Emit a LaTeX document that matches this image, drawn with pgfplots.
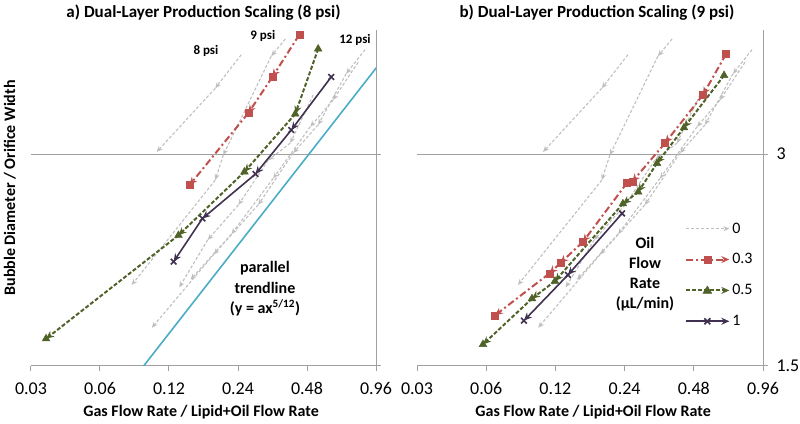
\documentclass[border=0pt]{standalone}
\usepackage{fontspec}
\setmainfont{Carlito}
\usepackage{pgfplots}
\pgfplotsset{compat=1.18}
\usetikzlibrary{arrows.meta}

\definecolor{cred}{RGB}{192,80,77}
\definecolor{cgreen}{RGB}{79,98,40}
\definecolor{cpurple}{RGB}{64,49,81}
\definecolor{cgray}{RGB}{191,191,191}
\definecolor{ccyan}{RGB}{75,172,198}
\definecolor{caxis}{RGB}{160,160,160}

\tikzset{
  gser/.style={cgray, line width=1.1pt, dash pattern=on 3pt off 2pt, -{Stealth[length=6pt,width=5pt]}},
  rser/.style={cred, line width=2pt, dash pattern=on 7pt off 3pt on 2pt off 3pt, -{Stealth[length=8pt,width=7pt]}},
  vser/.style={cgreen, line width=2pt, dash pattern=on 4pt off 2pt, -{Stealth[length=8pt,width=7pt]}},
  pser/.style={cpurple, line width=1.6pt, -{Stealth[length=8pt,width=7pt]}},
}
\pgfplotsset{
  legG/.style={legend image code/.code={\draw[gser] (0pt,0pt) -- (43pt,0pt);}},
  legR/.style={legend image code/.code={\draw[rser] (0pt,0pt) -- (43pt,0pt); \fill[cred] (17.5pt,-3.5pt) rectangle (24.5pt,3.5pt);}},
  legV/.style={legend image code/.code={\draw[vser] (0pt,0pt) -- (43pt,0pt); \fill[cgreen] (16.5pt,-3pt) -- (25.5pt,-3pt) -- (21pt,4.5pt) -- cycle;}},
  legP/.style={legend image code/.code={\draw[pser] (0pt,0pt) -- (43pt,0pt); \draw[cpurple, line width=1.6pt] (18pt,-3pt) -- (24pt,3pt) (18pt,3pt) -- (24pt,-3pt);}},
}

\newcommand{\sg}[3]{\addplot[#1,forget plot] coordinates {#2 #3};}

\newcommand{\graylines}{%
  \sg{gser}{(0.248,4.15)}{(0.191,3.72)}
  \sg{gser}{(0.191,3.72)}{(0.106,3.02)}
  \sg{gser}{(0.386,4.37)}{(0.335,4.13)}
  \sg{gser}{(0.335,4.13)}{(0.207,2.99)}
  \sg{gser}{(0.207,2.99)}{(0.191,2.755)}
  \sg{gser}{(0.191,2.755)}{(0.0825,1.955)}
  \sg{gser}{(0.511,3.64)}{(0.406,3.11)}
  \sg{gser}{(0.406,3.11)}{(0.325,2.94)}
  \sg{gser}{(0.325,2.94)}{(0.241,2.54)}
  \sg{gser}{(0.241,2.54)}{(0.177,2.265)}
  \sg{gser}{(0.177,2.265)}{(0.133,1.94)}
  \sg{gser}{(0.802,4.05)}{(0.624,3.58)}
  \sg{gser}{(0.624,3.58)}{(0.496,3.28)}
  \sg{gser}{(0.496,3.28)}{(0.342,2.77)}
  \sg{gser}{(0.342,2.77)}{(0.225,2.31)}
  \sg{gser}{(0.225,2.31)}{(0.149,1.99)}
  \sg{gser}{(0.860,4.22)}{(0.711,3.90)}
  \sg{gser}{(0.711,3.90)}{(0.537,3.30)}
  \sg{gser}{(0.537,3.30)}{(0.418,3.01)}
  \sg{gser}{(0.418,3.01)}{(0.294,2.54)}
  \sg{gser}{(0.294,2.54)}{(0.188,2.16)}
  \sg{gser}{(0.188,2.16)}{(0.101,1.70)}
}

\begin{document}
\begin{tikzpicture}
\useasboundingbox (0,0) rectangle (800pt,423pt);

% ---------- panel a ----------
\begin{axis}[
  scale only axis, width=345pt, height=336pt,
  at={(31pt,57pt)}, anchor=south west,
  xmode=log, ymode=log,
  xmin=0.03, xmax=0.96, ymin=1.5, ymax=4.5,
  axis x line*=bottom, axis y line*=right,
  axis line style={caxis, line width=1pt},
  xtick={0.03,0.06,0.12,0.24,0.48,0.96},
  xticklabels={0.03,0.06,0.12,0.24,0.48,0.96},
  ytick={1.5,3},
  yticklabels={},
  tick align=outside, major tick length=5pt,
  tick style={caxis, line width=1pt},
  ymajorgrids, major grid style={caxis, line width=1pt},
  tick label style={font=\fontsize{18}{21}\selectfont},
  xticklabel style={anchor=base, yshift=-24pt},
  title={a) Dual-Layer Production Scaling (8 psi)},
  title style={font=\bfseries\fontsize{17}{20}\selectfont, at={(0.50,1)}, anchor=base, yshift=6.5pt},
  xlabel={Gas Flow Rate / Lipid+Oil Flow Rate},
  xlabel style={font=\bfseries\fontsize{16}{19}\selectfont, at={(axis description cs:0.493,0)}, anchor=base, yshift=-51pt},
  ylabel={Bubble Diameter / Orifice Width},
  ylabel style={font=\bfseries\fontsize{16}{19}\selectfont, at={(axis description cs:-0.046,0.53)}, anchor=base},
]
\graylines
\addplot[ccyan, line width=1.6pt, forget plot] coordinates {(0.093,1.5) (0.970,3.99)};
\sg{rser}{(0.444,4.43)}{(0.339,3.86)}
\sg{rser}{(0.339,3.86)}{(0.266,3.43)}
\sg{rser}{(0.266,3.43)}{(0.1475,2.71)}
\addplot[only marks, mark=square*, mark size=3.5pt, cred, forget plot] coordinates {(0.444,4.43) (0.339,3.86) (0.266,3.43) (0.1475,2.71)};
\sg{vser}{(0.537,4.23)}{(0.4265,3.42)}
\sg{vser}{(0.4265,3.42)}{(0.256,2.83)}
\sg{vser}{(0.256,2.83)}{(0.132,2.30)}
\sg{vser}{(0.132,2.30)}{(0.0349,1.64)}
\addplot[only marks, mark=triangle*, mark size=4.5pt, cgreen, forget plot] coordinates {(0.537,4.23) (0.4265,3.42) (0.256,2.83) (0.132,2.30) (0.0349,1.64)};
\sg{pser}{(0.612,3.86)}{(0.410,3.245)}
\sg{pser}{(0.410,3.245)}{(0.286,2.81)}
\sg{pser}{(0.286,2.81)}{(0.168,2.43)}
\sg{pser}{(0.168,2.43)}{(0.1257,2.11)}
\addplot[only marks, mark=x, mark size=4pt, cpurple, line width=1.6pt, forget plot] coordinates {(0.612,3.86) (0.410,3.245) (0.286,2.81) (0.168,2.43) (0.1257,2.11)};

\node[font=\bfseries\fontsize{13}{15}\selectfont] at (rel axis cs:0.507,0.9375) {8 psi};
\node[font=\bfseries\fontsize{13}{15}\selectfont] at (rel axis cs:0.672,0.982) {9 psi};
\node[font=\bfseries\fontsize{13}{15}\selectfont] at (rel axis cs:0.939,0.970) {12 psi};
\node[align=center, font=\bfseries\fontsize{16}{20.5}\selectfont] at (rel axis cs:0.678,0.229)
  {parallel\\trendline\\(y = ax\textsuperscript{5/12})};
\end{axis}

% ---------- panel b ----------
\begin{axis}[
  scale only axis, width=346pt, height=336pt,
  at={(417pt,57pt)}, anchor=south west,
  xmode=log, ymode=log,
  xmin=0.03, xmax=0.96, ymin=1.5, ymax=4.5,
  axis x line*=bottom, axis y line*=right,
  axis line style={caxis, line width=1pt},
  xtick={0.03,0.06,0.12,0.24,0.48,0.96},
  xticklabels={0.03,0.06,0.12,0.24,0.48,0.96},
  ytick={1.5,3},
  yticklabels={1.5,3},
  yticklabel style={anchor=west, xshift=5pt},
  tick align=outside, major tick length=5pt,
  tick style={caxis, line width=1pt},
  ymajorgrids, major grid style={caxis, line width=1pt},
  tick label style={font=\fontsize{18}{21}\selectfont},
  xticklabel style={anchor=base, yshift=-24pt},
  title={b) Dual-Layer Production Scaling (9 psi)},
  title style={font=\bfseries\fontsize{17}{20}\selectfont, at={(0.52,1)}, anchor=base, yshift=6.5pt},
  xlabel={Gas Flow Rate / Lipid+Oil Flow Rate},
  xlabel style={font=\bfseries\fontsize{16}{19}\selectfont, at={(axis description cs:0.509,0)}, anchor=base, yshift=-51pt},
  legend style={draw=none, fill=none, at={(rel axis cs:0.775,0.271)}, anchor=west,
    font=\fontsize{16}{19}\selectfont, row sep=15pt, inner sep=0pt},
  legend cell align=left,
]
\graylines
\sg{rser}{(0.663,4.16)}{(0.526,3.64)}
\sg{rser}{(0.526,3.64)}{(0.360,3.11)}
\sg{rser}{(0.360,3.11)}{(0.259,2.74)}
\sg{rser}{(0.259,2.74)}{(0.246,2.73)}
\sg{rser}{(0.246,2.73)}{(0.158,2.25)}
\sg{rser}{(0.158,2.25)}{(0.126,2.10)}
\sg{rser}{(0.126,2.10)}{(0.113,2.03)}
\sg{rser}{(0.113,2.03)}{(0.0655,1.77)}
\addplot[only marks, mark=square*, mark size=3.5pt, cred, forget plot] coordinates {(0.663,4.16) (0.526,3.64) (0.360,3.11) (0.259,2.74) (0.246,2.73) (0.158,2.25) (0.126,2.10) (0.113,2.03) (0.0655,1.77)};
\sg{vser}{(0.650,3.88)}{(0.435,3.27)}
\sg{vser}{(0.435,3.27)}{(0.332,2.91)}
\sg{vser}{(0.332,2.91)}{(0.275,2.65)}
\sg{vser}{(0.275,2.65)}{(0.236,2.55)}
\sg{vser}{(0.236,2.55)}{(0.1195,1.98)}
\sg{vser}{(0.1195,1.98)}{(0.0949,1.87)}
\sg{vser}{(0.0949,1.87)}{(0.0581,1.61)}
\addplot[only marks, mark=triangle*, mark size=4.5pt, cgreen, forget plot] coordinates {(0.650,3.88) (0.435,3.27) (0.332,2.91) (0.275,2.65) (0.236,2.55) (0.1195,1.98) (0.0949,1.87) (0.0581,1.61)};
\sg{pser}{(0.234,2.47)}{(0.136,2.02)}
\sg{pser}{(0.136,2.02)}{(0.0876,1.74)}
\addplot[only marks, mark=x, mark size=4pt, cpurple, line width=1.6pt, forget plot] coordinates {(0.234,2.47) (0.136,2.02) (0.0876,1.74)};

\addlegendimage{legG}
\addlegendentry{0}
\addlegendimage{legR}
\addlegendentry{0.3}
\addlegendimage{legV}
\addlegendentry{0.5}
\addlegendimage{legP}
\addlegendentry{1}

\node[align=center, font=\bfseries\fontsize{16}{20}\selectfont] at (rel axis cs:0.659,0.274)
  {Oil\\Flow\\Rate\\(µL/min)};
\end{axis}
\end{tikzpicture}
\end{document}
